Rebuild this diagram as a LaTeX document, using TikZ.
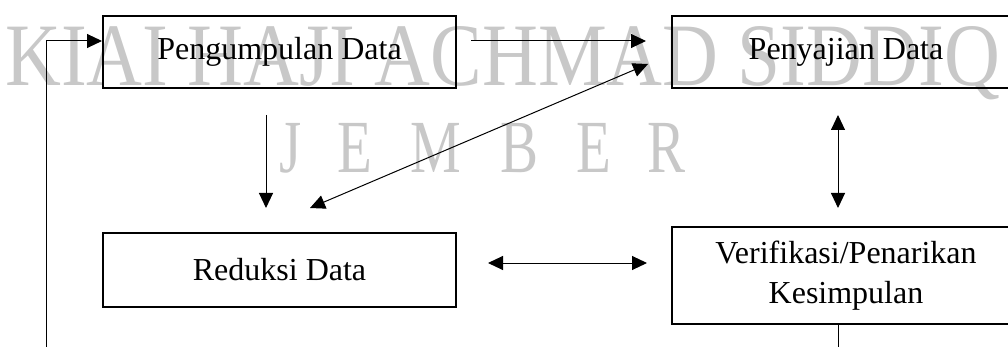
\documentclass[tikz,border=0pt]{standalone}
\usepackage{fontspec}
\usepackage{graphicx}
\setmainfont{Liberation Serif}
\usetikzlibrary{arrows.meta}
\definecolor{wmgray}{RGB}{200,200,200}
\begin{document}
\begin{tikzpicture}[x=1pt,y=-1pt,
  box/.style={draw, line width=2pt, inner sep=0pt, align=center,
    font=\fontsize{32}{40}\selectfont},
  arr/.style={line width=1pt, -{Triangle[length=15pt,width=14pt]}},
  darr/.style={line width=1pt, {Triangle[length=15pt,width=14pt]}-{Triangle[length=15pt,width=14pt]}},
  wm/.style={text=wmgray, inner sep=0pt}]
\useasboundingbox (0,0) rectangle (1008,347);
\clip (0,0) rectangle (1008,347);

% background lettering
\node[wm, anchor=base west] (wmtop) at (5,86)
  {\resizebox{995pt}{59pt}{\fontsize{88}{88}\selectfont KIAI HAJI ACHMAD SIDDIQ}};
\foreach \c/\x in {J/291,E/355,M/436,B/520,E/594,R/666}
  \node[wm, anchor=base] (wm-\x) at (\x,173) {\fontsize{75}{75}\selectfont\scalebox{0.76}[1]{\c}};

% stages
\node[box, minimum width=353pt, minimum height=72pt] (peng) at (279.5,52) {Pengumpulan Data};
\node[box, minimum width=348pt, minimum height=72pt] (penyaj) at (846,52) {Penyajian Data};
\node[box, minimum width=353pt, minimum height=74pt] (reduksi) at (279.5,270) {Reduksi Data};
\node[box, minimum width=348pt, minimum height=97pt] (verif) at (846,275.5) {Verifikasi/Penarikan\\Kesimpulan};

% connectors
\draw[arr, shorten <=14pt, shorten >=25pt] ([yshift=11pt]peng.east) -- ([yshift=11pt]penyaj.west);
\draw[arr] ([xshift=-13.5pt,yshift=-26pt]peng.south) -- ([xshift=-13.5pt,yshift=24pt]reduksi.north);
\draw[darr] ([xshift=30.5pt,yshift=24pt]reduksi.north) -- ([xshift=-23pt,yshift=-12pt]penyaj.west);
\draw[darr] ([xshift=-8pt,yshift=-26pt]penyaj.south) -- ([xshift=-8pt,yshift=18pt]verif.north);
\draw[darr] ([xshift=31pt,yshift=7pt]reduksi.east) -- ([xshift=-24pt,yshift=12.5pt]verif.west);

% feedback loop back to data collection
\draw[arr] ([xshift=-8pt]verif.south) -- ++(0,50)
  -| ([xshift=-56pt,yshift=11pt]peng.west) -- ([yshift=11pt]peng.west);
\end{tikzpicture}
\end{document}
